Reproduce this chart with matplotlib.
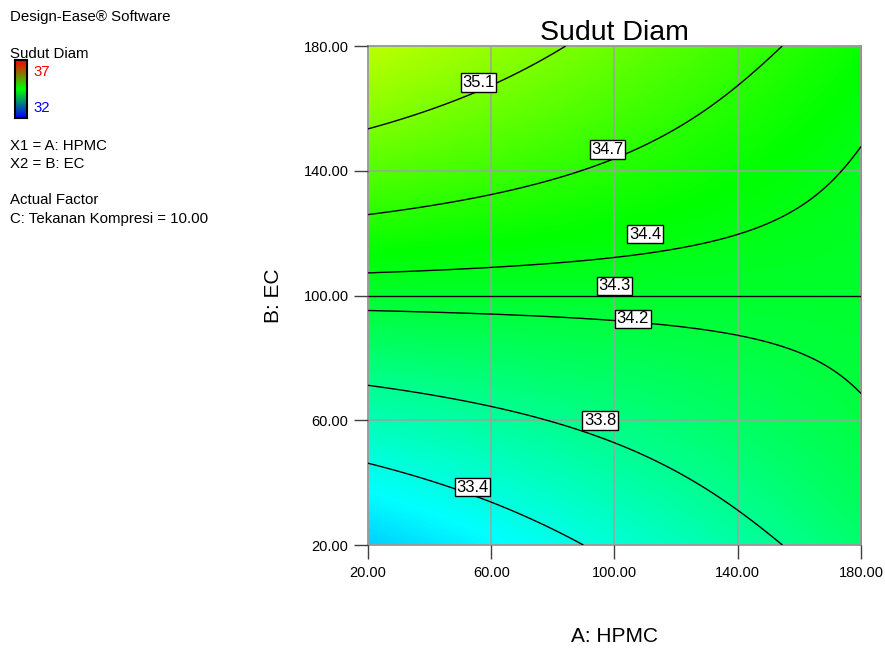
import numpy as np
import matplotlib.pyplot as plt
from matplotlib.colors import LinearSegmentedColormap

plt.rcParams['font.family'] = ['Liberation Sans', 'DejaVu Sans']

# fitted response Sudut Diam, coded factors x1 = (A-100)/80, x2 = (B-100)/80, C = 10.00
intercept = 34.28
coef_terms = ['x2', 'x1*x2', 'x2^2', 'x1^2*x2', 'x1*x2^2', 'x2^3', 'x1*x2^3']
coef_values = [0.7930, -0.5758, -0.0429, -0.0395, 0.0186, -0.0150, 0.1208]

levels = [33.4, 33.8, 34.2, 34.28, 34.4, 34.7, 35.1]
label_a = [53.9, 95.3, 106.0, 100.0, 109.9, 97.7, 55.9]
label_b = [38.6, 59.9, 92.5, 103.1, 119.7, 146.8, 168.3]

ticks = [20, 60, 100, 140, 180]
scale_low, scale_high = 32, 37

a = np.linspace(20, 180, 400)
A, B = np.meshgrid(a, a)
x1 = (A - 100) / 80
x2 = (B - 100) / 80
terms = [x2, x1 * x2, x2 ** 2, x1 ** 2 * x2, x1 * x2 ** 2, x2 ** 3, x1 * x2 ** 3]
Z = intercept + sum(c * t for c, t in zip(coef_values, terms))

# blue -> cyan -> green -> yellow -> red shading
shade = LinearSegmentedColormap.from_list('de_shade', ['#0000ff', '#00ffff', '#00ff00', '#ffff00', '#ff0000'])
legend_cmap = LinearSegmentedColormap.from_list('de_legend', ['#0000ff', '#00ff00', '#ff0000'])

fig = plt.figure(figsize=(8.85, 6.51), dpi=100)
ax = fig.add_axes([0.4158, 0.1628, 0.5571, 0.7665])

ax.imshow(Z, extent=[20, 180, 20, 180], origin='lower', aspect='auto',
          cmap=shade, vmin=scale_low, vmax=scale_high, interpolation='bilinear', zorder=0)
ax.contour(A, B, Z, levels=levels, colors='k', linewidths=1.0, zorder=3)
for lv, la, lb in zip(levels, label_a, label_b):
    ax.text(la, lb, '%.1f' % lv, fontsize=12, ha='center', va='center', zorder=4,
            bbox=dict(boxstyle='square,pad=0.1', fc='white', ec='black', lw=1))

ax.set_xlim(20, 180)
ax.set_ylim(20, 180)
ax.set_xticks(ticks)
ax.set_yticks(ticks)
ax.set_xticklabels(['%.2f' % t for t in ticks])
ax.set_yticklabels(['%.2f' % t for t in ticks])
ax.tick_params(axis='both', direction='out', length=10, width=1, color='#404040', labelsize=10.5)
ax.tick_params(axis='x', pad=5)
ax.tick_params(axis='y', pad=4)
ax.set_axisbelow(False)
ax.grid(True, color='#a0a0a0', lw=1.1)
for s in ax.spines.values():
    s.set_color('#8c8c8c')
    s.set_linewidth(1.2)

ax.set_title('Sudut Diam', fontsize=20.5, pad=2)
ax.set_xlabel('A: HPMC', fontsize=15)
ax.set_ylabel('B: EC', fontsize=15)
ax.xaxis.set_label_coords(0.5, -0.164)
ax.yaxis.set_label_coords(-0.172, 0.5)

# side panel
fig.text(0.0113, 1 - 20.5 / 651, 'Design-Ease® Software', fontsize=10.8, va='baseline')
fig.text(0.0113, 1 - 57.5 / 651, 'Sudut Diam', fontsize=10.8, va='baseline')
cax = fig.add_axes([15 / 885, 1 - 118 / 651, 12 / 885, 58 / 651])
cax.imshow(np.linspace(scale_low, scale_high, 100).reshape(-1, 1), origin='lower', aspect='auto',
           cmap=legend_cmap, vmin=scale_low, vmax=scale_high)
cax.set_xticks([])
cax.set_yticks([])
for s in cax.spines.values():
    s.set_color('black')
    s.set_linewidth(1.5)
fig.text(33 / 885, 1 - 76.5 / 651, str(scale_high), fontsize=10.8, color='#ff0000', va='baseline')
fig.text(33 / 885, 1 - 112.5 / 651, str(scale_low), fontsize=10.8, color='#0000ff', va='baseline')
fig.text(0.0113, 1 - 149.5 / 651, 'X1 = A: HPMC', fontsize=10.8, va='baseline')
fig.text(0.0113, 1 - 167.5 / 651, 'X2 = B: EC', fontsize=10.8, va='baseline')
fig.text(0.0113, 1 - 204.5 / 651, 'Actual Factor', fontsize=10.8, va='baseline')
fig.text(0.0113, 1 - 222.5 / 651, 'C: Tekanan Kompresi = 10.00', fontsize=10.8, va='baseline')

fig.savefig('out.png')
